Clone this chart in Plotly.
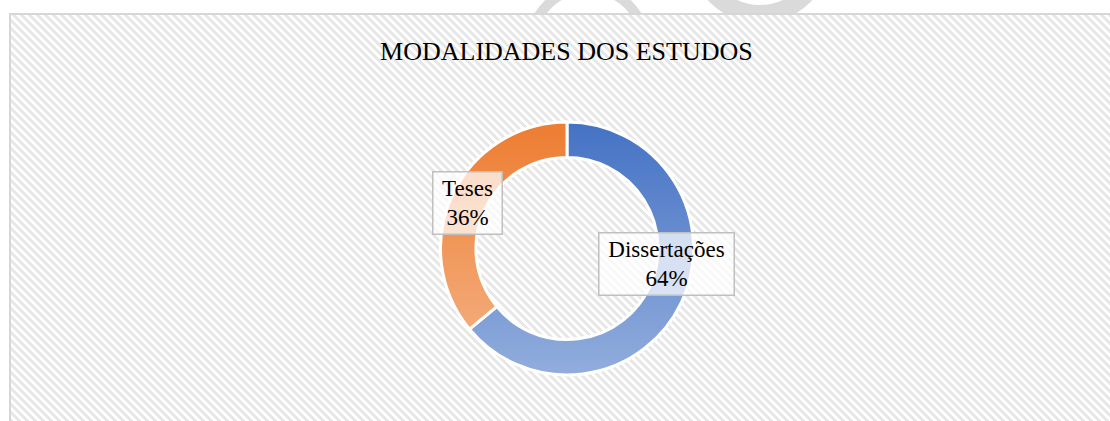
import base64, math
import plotly.graph_objects as go

# ---- data ----
labels = ["Dissertações", "Teses"]
values = [64, 36]
colors = ["#4472C4", "#ED7D31"]
title_text = "MODALIDADES DOS ESTUDOS"

W, H = 1110, 421
# donut geometry (pixels)
CX, CY = 567.0, 248.5
R_OUT = 126.5
HOLE = 0.72
R_IN = R_OUT * HOLE

# ---- background svg (hatched frame + watermark fragments) ----
bg_svg = f'''<svg xmlns="http://www.w3.org/2000/svg" width="{W}" height="{H}" viewBox="0 0 {W} {H}" preserveAspectRatio="none">
<defs>
<pattern id="h" width="8" height="8" patternUnits="userSpaceOnUse" x="10" y="14">
<rect width="8" height="8" fill="#ffffff"/>
<path d="M0,0 L4,0 L8,4 L8,8 Z M0,4 L4,8 L0,8 Z" fill="#e7e7e7" shape-rendering="crispEdges"/>
</pattern>
<clipPath id="top"><rect x="0" y="0" width="{W}" height="13"/></clipPath>
</defs>
<rect width="{W}" height="{H}" fill="#ffffff"/>
<g clip-path="url(#top)" fill="none" stroke="#dadada">
<circle cx="588" cy="45" r="57" stroke-width="10"/>
<circle cx="760" cy="-48" r="62" stroke-width="18"/>
</g>
<rect x="9" y="13" width="{W}" height="{H}" fill="url(#h)"/>
<path d="M10,{H} L10,14 L{W},14" fill="none" stroke="#d6d6d6" stroke-width="2"/>
</svg>'''

# ---- gradient overlay ring (lightens the lower part of the donut) ----
D = 2 * R_OUT
ring_svg = f'''<svg xmlns="http://www.w3.org/2000/svg" width="{D}" height="{D}" viewBox="0 0 {D} {D}" preserveAspectRatio="none">
<defs><linearGradient id="g" x1="0" y1="0" x2="0" y2="1">
<stop offset="0" stop-color="#ffffff" stop-opacity="0"/>
<stop offset="1" stop-color="#ffffff" stop-opacity="0.42"/>
</linearGradient></defs>
<path fill="url(#g)" fill-rule="evenodd" d="M{R_OUT},0 A{R_OUT},{R_OUT} 0 1 1 {R_OUT},{D} A{R_OUT},{R_OUT} 0 1 1 {R_OUT},0 Z M{R_OUT},{R_OUT-R_IN} A{R_IN},{R_IN} 0 1 1 {R_OUT},{R_OUT+R_IN} A{R_IN},{R_IN} 0 1 1 {R_OUT},{R_OUT-R_IN} Z"/>
</svg>'''


def uri(s):
    return "data:image/svg+xml;base64," + base64.b64encode(s.encode()).decode()


fig = go.Figure()
fig.add_trace(go.Pie(
    labels=labels, values=values, sort=False, direction="clockwise", rotation=0,
    hole=HOLE, textinfo="none", hoverinfo="label+percent", showlegend=False,
    marker=dict(colors=colors, line=dict(color="#ffffff", width=3)),
    domain=dict(x=[(CX - R_OUT) / W, (CX + R_OUT) / W],
                y=[1 - (CY + R_OUT) / H, 1 - (CY - R_OUT) / H]),
))

# ---- data labels (boxes at ring centroid) ----
total = sum(values)
box_w = {"Dissertações": 128, "Teses": 62}
annotations = []
cum = 0
rm = (R_OUT + R_IN) / 2 + 1.5
for lab, v in zip(labels, values):
    theta = math.radians(360 * (cum + v / 2) / total)
    cum += v
    px = CX + rm * math.sin(theta)
    py = CY - rm * math.cos(theta) + 1
    annotations.append(dict(
        x=px / W, y=1 - py / H, xref="paper", yref="paper", showarrow=False,
        text=f"{lab}<br>{round(100 * v / total)}%",
        font=dict(family="Liberation Serif", size=23, color="#000000"),
        bgcolor="rgba(255,255,255,0.72)", bordercolor="#bfbfbf", borderwidth=1.5,
        borderpad=3, width=box_w[lab], height=55, align="center", valign="middle",
    ))

fig.update_layout(
    width=W, height=H, margin=dict(l=0, r=0, t=0, b=0),
    paper_bgcolor="#ffffff", plot_bgcolor="#ffffff",
    title=dict(text=title_text, x=566.4 / W, xanchor="center", y=1 - 50.5 / H,
               yanchor="middle", yref="paper",
               font=dict(family="Liberation Serif", size=26, color="#000000")),
    annotations=annotations,
    images=[
        dict(source=uri(bg_svg), xref="paper", yref="paper", x=0, y=1,
             sizex=1, sizey=1, xanchor="left", yanchor="top", sizing="stretch",
             layer="below"),
        dict(source=uri(ring_svg), xref="paper", yref="paper",
             x=(CX - R_OUT) / W, y=1 - (CY - R_OUT) / H,
             sizex=D / W, sizey=D / H, xanchor="left", yanchor="top",
             sizing="stretch", layer="above"),
    ],
)

fig.write_html(
    "out.html",
    config={"displayModeBar": False},
    post_script="document.body.style.margin='0';document.body.style.overflow='hidden';",
)
